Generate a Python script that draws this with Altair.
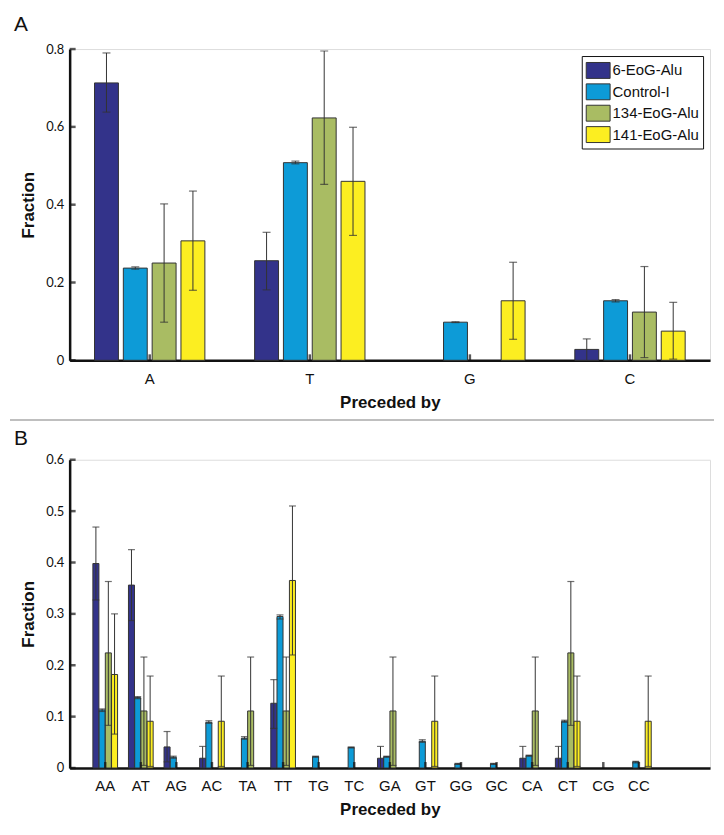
import altair as alt
import pandas as pd

series = ["6-EoG-Alu", "Control-I", "134-EoG-Alu", "141-EoG-Alu"]
colors = ["#33338a", "#0d9bd7", "#a9bc63", "#fcee21"]

# Panel A
cats_a = ["A", "T", "G", "C"]
val_a = {
    "6-EoG-Alu":   [0.713, 0.256, 0.0, 0.028],
    "Control-I":   [0.237, 0.508, 0.098, 0.153],
    "134-EoG-Alu": [0.250, 0.623, 0.0, 0.124],
    "141-EoG-Alu": [0.307, 0.460, 0.153, 0.075],
}
lo_a = {
    "6-EoG-Alu":   [0.638, 0.181, 0.0, 0.0],
    "Control-I":   [0.234, 0.505, 0.097, 0.150],
    "134-EoG-Alu": [0.098, 0.452, 0.0, 0.007],
    "141-EoG-Alu": [0.180, 0.321, 0.054, 0.003],
}
hi_a = {
    "6-EoG-Alu":   [0.790, 0.329, 0.0, 0.055],
    "Control-I":   [0.240, 0.512, 0.099, 0.156],
    "134-EoG-Alu": [0.402, 0.795, 0.0, 0.241],
    "141-EoG-Alu": [0.435, 0.599, 0.252, 0.149],
}
ticks_a = [0, 0.2, 0.4, 0.6, 0.8]

# Panel B
cats_b = ["AA", "AT", "AG", "AC", "TA", "TT", "TG", "TC",
          "GA", "GT", "GG", "GC", "CA", "CT", "CG", "CC"]
val_b = {
    "6-EoG-Alu":   [0.398, 0.356, 0.041, 0.019, 0.0, 0.126, 0.0, 0.0,
                    0.019, 0.0, 0.0, 0.0, 0.019, 0.019, 0.0, 0.0],
    "Control-I":   [0.113, 0.137, 0.021, 0.089, 0.058, 0.295, 0.022, 0.040,
                    0.022, 0.052, 0.008, 0.008, 0.024, 0.091, 0.0, 0.012],
    "134-EoG-Alu": [0.224, 0.111, 0.0, 0.0, 0.111, 0.111, 0.0, 0.0,
                    0.111, 0.0, 0.0, 0.0, 0.111, 0.224, 0.0, 0.0],
    "141-EoG-Alu": [0.182, 0.091, 0.0, 0.091, 0.0, 0.365, 0.0, 0.0,
                    0.0, 0.091, 0.0, 0.0, 0.0, 0.091, 0.0, 0.091],
}
lo_b = {
    "6-EoG-Alu":   [0.327, 0.287, 0.012, 0.0, 0.0, 0.077, 0.0, 0.0,
                    0.0, 0.0, 0.0, 0.0, 0.0, 0.0, 0.0, 0.0],
    "Control-I":   [0.110, 0.135, 0.019, 0.087, 0.056, 0.290, 0.021, 0.039,
                    0.021, 0.050, 0.007, 0.007, 0.023, 0.089, 0.0, 0.010],
    "134-EoG-Alu": [0.083, 0.005, 0.0, 0.0, 0.005, 0.005, 0.0, 0.0,
                    0.005, 0.0, 0.0, 0.0, 0.005, 0.083, 0.0, 0.0],
    "141-EoG-Alu": [0.066, 0.003, 0.0, 0.003, 0.0, 0.220, 0.0, 0.0,
                    0.0, 0.003, 0.0, 0.0, 0.0, 0.003, 0.0, 0.003],
}
hi_b = {
    "6-EoG-Alu":   [0.469, 0.425, 0.071, 0.042, 0.0, 0.172, 0.0, 0.0,
                    0.042, 0.0, 0.0, 0.0, 0.042, 0.042, 0.0, 0.0],
    "Control-I":   [0.115, 0.139, 0.023, 0.092, 0.061, 0.298, 0.023, 0.041,
                    0.023, 0.055, 0.009, 0.009, 0.025, 0.093, 0.0, 0.013],
    "134-EoG-Alu": [0.363, 0.216, 0.0, 0.0, 0.216, 0.216, 0.0, 0.0,
                    0.216, 0.0, 0.0, 0.0, 0.216, 0.363, 0.0, 0.0],
    "141-EoG-Alu": [0.300, 0.179, 0.0, 0.179, 0.0, 0.510, 0.0, 0.0,
                    0.0, 0.179, 0.0, 0.0, 0.0, 0.179, 0.0, 0.179],
}
ticks_b = [0, 0.1, 0.2, 0.3, 0.4, 0.5, 0.6]


def long_table(cats, val, lo, hi):
    rows = []
    for s in series:
        for i, c in enumerate(cats):
            rows.append({"cat": c, "series": s, "value": val[s][i],
                         "lo": lo[s][i], "hi": hi[s][i]})
    return pd.DataFrame(rows)


df_a = long_table(cats_a, val_a, lo_a, hi_a)
df_b = long_table(cats_b, val_b, lo_b, hi_b)

LABEL_FONT = "Lato"
TEXT_FONT = "Liberation Sans"


def panel(df, cats, ymax, yticks, W, H, xscale, offscale, cap, title,
          title_offset, show_legend, sep_visible):
    xenc = alt.X("cat:N", sort=cats, scale=xscale,
                 axis=alt.Axis(title="Preceded by", labelAngle=0, ticks=False,
                               domainWidth=2.5, domainColor="#111",
                               labelFont=TEXT_FONT, labelFontSize=15,
                               labelColor="#111", labelPadding=11,
                               titleFont=TEXT_FONT, titleFontSize=17,
                               titleFontWeight="bold", titleColor="#111",
                               titlePadding=8))
    yscale = alt.Scale(domain=[0, ymax], nice=False)
    yenc = alt.Y("value:Q", scale=yscale,
                 axis=alt.Axis(title="Fraction", values=yticks, ticks=False,
                               grid=False, domainWidth=2.5, domainColor="#111",
                               labelExpr="datum.value == 0 ? '0' : format(datum.value, '.1f')",
                               labelFont=LABEL_FONT, labelFontSize=13,
                               labelColor="#111", labelPadding=6,
                               titleFont=TEXT_FONT, titleFontSize=17,
                               titleFontWeight="bold", titleColor="#111",
                               titlePadding=8))
    legend = None
    if show_legend:
        legend = alt.Legend(
            title=None, orient="top-right", offset=7,
            symbolType="M-1,-0.8L1.4,-0.8L1.4,0.8L-1,0.8Z",
            symbolSize=400, symbolStrokeColor="#333", symbolStrokeWidth=1,
            symbolOpacity=1, labelFont=TEXT_FONT, labelFontSize=15,
            labelColor="#111", labelOffset=6, rowPadding=0.5,
            strokeColor="#111", fillColor="white",
            padding=4, labelLimit=200)
    color = alt.Color("series:N", sort=series,
                      scale=alt.Scale(domain=series, range=colors),
                      legend=legend)
    off = alt.XOffset("series:N", sort=series, scale=offscale)

    base = alt.Chart(df)
    bars = base.transform_filter("datum.value > 0").mark_bar(
        stroke="#333", strokeWidth=1, opacity=1).encode(
        x=xenc, xOffset=off, y=yenc, color=color)
    err_df = df[df["hi"] > 0]
    errs = alt.Chart(err_df).mark_rule(color="#333", strokeWidth=1).encode(
        x=alt.X("cat:N", sort=cats), xOffset=off,
        y=alt.Y("lo:Q"), y2="hi:Q")
    cap_hi = alt.Chart(err_df).mark_tick(
        color="#333", thickness=1.2, size=cap, orient="horizontal").encode(
        x=alt.X("cat:N", sort=cats), xOffset=off, y=alt.Y("hi:Q"))
    cap_lo = alt.Chart(err_df[err_df["lo"] > 0]).mark_tick(
        color="#333", thickness=1.2, size=cap, orient="horizontal").encode(
        x=alt.X("cat:N", sort=cats), xOffset=off, y=alt.Y("lo:Q"))

    ytick_df = pd.DataFrame({"t": yticks})
    yt = alt.Chart(ytick_df).mark_tick(
        color="#111", thickness=2.5, size=6, orient="horizontal").encode(
        y=alt.Y("t:Q"), x=alt.value(3))
    xtick_df = pd.DataFrame({"cat": cats})
    xt = alt.Chart(xtick_df).mark_tick(
        color="#111", thickness=2.5, size=6, orient="vertical").encode(
        x=alt.X("cat:N", sort=cats), y=alt.value(H - 3))

    layers = [bars, errs, cap_hi, cap_lo, yt, xt]
    # full-width separator line below panel (invisible in the last panel,
    # kept there only so both panels have the same horizontal extent)
    sepl = alt.Chart(pd.DataFrame({"k": [0]})).mark_rule(
        color="#aaaaaa", strokeWidth=1.5,
        opacity=1 if sep_visible else 0).encode(
        x=alt.value(-60), x2=alt.value(W + 4),
        y=alt.value(H + 60 if sep_visible else H))
    layers.append(sepl)

    return alt.layer(*layers).properties(
        width=W, height=H,
        title=alt.TitleParams(title, anchor="start", frame="group", dx=-56,
                              font=TEXT_FONT, fontSize=21,
                              fontWeight="normal", color="#111",
                              offset=title_offset))


chart_a = panel(df_a, cats_a, 0.8, ticks_a, 644, 313,
                alt.Scale(paddingInner=0.28, paddingOuter=0.14),
                alt.Scale(paddingInner=0.17, paddingOuter=0.085),
                8, "A", 8, True, True)
chart_b = panel(df_b, cats_b, 0.6, ticks_b, 644, 310,
                alt.Scale(paddingInner=0, paddingOuter=1, align=0.25),
                alt.Scale(paddingInner=0.03, paddingOuter=0.875),
                7, "B", 5, False, False)

chart = alt.vconcat(chart_a, chart_b, spacing=5).resolve_scale(
    x="independent", y="independent", xOffset="independent"
).properties(
    padding={"left": 0, "top": 3, "right": 0, "bottom": 0}
).configure_view(stroke=None).configure_legend(
    strokeWidth=2
).configure(background="white")

chart.save("out.html", embed_options={"renderer": "svg", "actions": False})
